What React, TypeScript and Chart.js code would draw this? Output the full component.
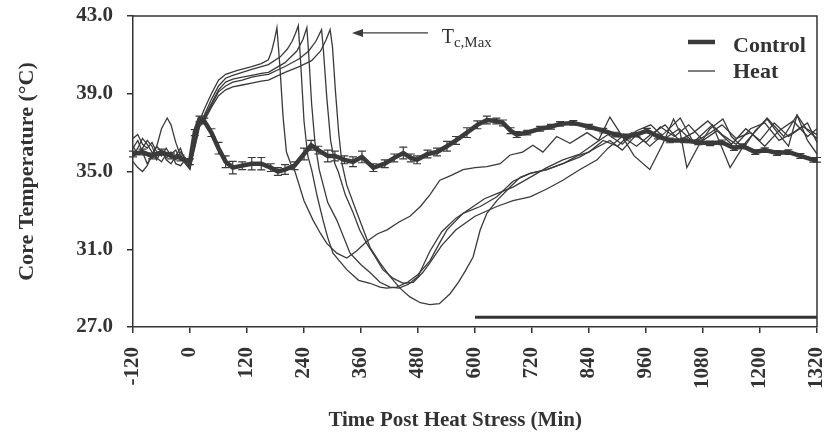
import React, { useEffect, useRef } from "react";
import { Chart, registerables } from "chart.js";

Chart.register(...registerables);

// ---------- data ----------
const xTickValues = [-120, 0, 120, 240, 360, 480, 600, 720, 840, 960, 1080, 1200, 1320];
const yTickValues = [27, 31, 35, 39, 43];

// control: [time (min), core temp (°C), SEM]
const controlSeries: [number, number, number][] = [
  [-120, 35.9, 0.15], [-100, 36.0, 0.15], [-80, 35.8, 0.15], [-60, 36.0, 0.15], [-40, 35.8, 0.15], [-20, 35.7, 0.15], [0, 35.5, 0.15],
  [10, 37.0, 0.15], [20, 37.7, 0.15], [30, 37.6, 0.15], [45, 37.0, 0.2], [60, 36.2, 0.3], [75, 35.5, 0.3], [90, 35.2, 0.32],
  [110, 35.3, 0.2], [130, 35.4, 0.32], [150, 35.4, 0.32], [170, 35.2, 0.2], [185, 35.0, 0.2], [200, 35.1, 0.25], [220, 35.3, 0.2], [240, 35.9, 0.3],
  [255, 36.35, 0.25], [270, 36.1, 0.2], [290, 35.8, 0.3], [305, 35.8, 0.25], [325, 35.6, 0.2], [343, 35.5, 0.25], [362, 35.75, 0.3], [386, 35.2, 0.2],
  [410, 35.4, 0.2], [430, 35.7, 0.2], [449, 35.95, 0.3], [465, 35.7, 0.2], [478, 35.6, 0.2], [500, 35.9, 0.2], [520, 36.0, 0.2], [541, 36.3, 0.25],
  [560, 36.6, 0.2], [583, 37.0, 0.25], [605, 37.4, 0.2], [625, 37.65, 0.2], [645, 37.6, 0.15], [659, 37.5, 0.15], [675, 37.1, 0.15], [688, 36.9, 0.15],
  [710, 37.0, 0.12], [737, 37.2, 0.12], [760, 37.3, 0.12], [779, 37.45, 0.12], [807, 37.5, 0.12], [840, 37.3, 0.12], [870, 37.1, 0.12], [895, 36.9, 0.12],
  [920, 36.8, 0.12], [940, 36.9, 0.12], [962, 37.1, 0.12], [985, 36.8, 0.12], [1010, 36.6, 0.12], [1040, 36.6, 0.12], [1070, 36.5, 0.12], [1095, 36.45, 0.12],
  [1120, 36.5, 0.12], [1145, 36.2, 0.12], [1164, 36.3, 0.12], [1190, 36.0, 0.12], [1210, 36.1, 0.12], [1236, 35.95, 0.12], [1260, 36.0, 0.12], [1285, 35.8, 0.12],
  [1312, 35.6, 0.12], [1320, 35.6, 0.12],
];

// heat-stressed animals: [time (min), core temp (°C)]
const heatA: [number, number][] = [
  [-120, 36.2], [-110, 36.6], [-100, 36.0], [-90, 35.4], [-80, 35.8], [-70, 36.3], [-60, 36.0], [-50, 35.7], [-40, 35.9], [-30, 36.1], [-20, 35.6], [-10, 35.5], [0, 35.2],
  [10, 36.6], [20, 37.6], [30, 38.2], [45, 39.0], [60, 39.7], [75, 40.0], [100, 40.2], [130, 40.4], [150, 40.55], [165, 40.75], [172, 41.2], [178, 41.8], [183, 42.4],
  [189, 40.5], [196, 37.8], [203, 36.0], [212, 35.4], [221, 35.0], [240, 33.5], [259, 32.5], [275, 31.8], [288, 31.3], [309, 30.8], [330, 30.55],
  [350, 30.9], [372, 31.4], [395, 31.8], [415, 32.0], [440, 32.4], [463, 32.7], [485, 33.2], [505, 33.8], [526, 34.55], [550, 34.8], [575, 35.1], [600, 35.2],
  [625, 35.25], [653, 35.4], [674, 35.85], [700, 36.0], [722, 36.35], [743, 36.0], [772, 36.8], [800, 36.45], [836, 37.0], [860, 36.6], [884, 37.8], [905, 37.0],
  [935, 35.8], [968, 35.1], [995, 36.4], [1018, 37.7], [1032, 37.0], [1046, 35.2], [1070, 36.3], [1095, 37.2], [1122, 37.7], [1140, 36.8], [1165, 36.2],
  [1190, 37.1], [1215, 37.7], [1240, 36.9], [1260, 36.3], [1278, 37.9], [1300, 37.1], [1320, 36.7],
];

const heatB: [number, number][] = [
  [-120, 36.7], [-110, 36.9], [-100, 36.4], [-90, 36.2], [-80, 36.5], [-70, 36.0], [-60, 35.8], [-50, 36.2], [-40, 35.8], [-30, 35.6], [-20, 36.0], [-10, 35.7], [0, 35.3],
  [10, 36.5], [20, 37.5], [30, 37.9], [45, 38.7], [60, 39.4], [75, 39.8], [90, 39.95], [110, 40.1], [130, 40.25], [150, 40.4], [165, 40.5], [190, 40.9], [205, 41.3], [215, 41.7], [222, 42.1], [228, 42.5],
  [233, 40.6], [240, 37.6], [248, 35.8], [256, 35.1], [268, 33.7], [280, 32.5], [290, 31.6], [301, 30.8], [330, 29.95], [355, 29.4], [379, 29.25], [400, 29.05], [414, 29.0],
  [435, 29.05], [458, 29.3], [480, 29.7], [505, 30.4], [525, 31.3], [541, 32.0], [575, 32.85], [611, 33.2], [646, 33.7], [680, 34.5], [716, 34.9], [751, 35.1], [785, 35.4],
  [815, 35.8], [840, 36.0], [870, 36.6], [900, 36.3], [930, 37.0], [960, 36.5], [990, 37.3], [1020, 36.8], [1050, 37.4], [1080, 36.6], [1110, 37.1], [1140, 36.4],
  [1170, 37.2], [1200, 36.6], [1230, 37.5], [1260, 36.8], [1290, 37.3], [1320, 36.9],
];

const heatC: [number, number][] = [
  [-120, 35.5], [-110, 35.2], [-100, 35.0], [-90, 35.3], [-80, 35.9], [-70, 36.3], [-60, 37.2], [-48, 37.75], [-40, 37.4], [-30, 36.5], [-20, 35.8], [-10, 35.4], [0, 35.1],
  [10, 36.4], [20, 37.5], [30, 37.8], [45, 38.5], [60, 39.2], [75, 39.6], [90, 39.75], [110, 39.85], [130, 39.95], [150, 40.05], [165, 40.1], [200, 40.6], [225, 41.2], [238, 41.8], [246, 42.4],
  [250, 41.0], [256, 38.5], [263, 36.5], [272, 35.1], [290, 33.4], [309, 32.5], [337, 30.8], [360, 30.2], [379, 29.8], [400, 29.3], [421, 29.05], [440, 29.0], [460, 29.2],
  [480, 29.6], [505, 30.9], [530, 31.9], [560, 32.6], [590, 33.1], [620, 33.6], [650, 33.9], [680, 34.2], [716, 34.7], [751, 35.2], [785, 35.6], [821, 35.9],
  [850, 36.4], [880, 36.9], [910, 36.4], [940, 37.1], [970, 37.4], [1000, 36.7], [1030, 37.2], [1060, 36.5], [1090, 36.9], [1120, 37.4], [1150, 36.7], [1180, 37.0],
  [1210, 36.3], [1240, 37.1], [1270, 37.6], [1300, 36.8], [1320, 37.2],
];

const heatD: [number, number][] = [
  [-120, 36.3], [-110, 35.9], [-100, 36.2], [-90, 36.6], [-80, 36.3], [-70, 35.7], [-60, 35.5], [-50, 35.9], [-40, 36.0], [-30, 35.4], [-20, 35.3], [-10, 35.6], [0, 35.3],
  [10, 36.3], [20, 37.4], [30, 37.7], [45, 38.4], [60, 39.1], [75, 39.4], [90, 39.6], [110, 39.7], [130, 39.85], [150, 39.95], [165, 40.0], [200, 40.4], [230, 40.8], [250, 41.2], [265, 41.7], [277, 42.3],
  [281, 41.2], [288, 38.8], [296, 36.6], [305, 35.4], [312, 35.0], [327, 33.8], [343, 32.9], [357, 32.0], [372, 31.3], [390, 30.6], [406, 29.95], [428, 29.5], [449, 29.25],
  [470, 29.3], [490, 29.8], [505, 30.3], [530, 31.2], [560, 32.0], [600, 32.7], [646, 33.2], [680, 33.5], [716, 33.7], [751, 34.1], [785, 34.55], [821, 35.1], [857, 35.6],
  [880, 36.2], [910, 36.8], [940, 36.3], [970, 36.9], [1000, 37.4], [1030, 36.6], [1060, 37.0], [1090, 37.6], [1120, 36.9], [1150, 36.4], [1180, 37.2], [1210, 37.5],
  [1240, 36.6], [1270, 37.0], [1300, 37.5], [1320, 36.5],
];

const heatE: [number, number][] = [
  [-120, 35.8], [-110, 36.2], [-100, 36.7], [-90, 36.4], [-80, 36.0], [-70, 35.6], [-60, 36.1], [-50, 35.6], [-40, 35.4], [-30, 35.8], [-20, 36.2], [-10, 35.5], [0, 35.2],
  [10, 36.2], [20, 37.3], [30, 37.6], [45, 38.3], [60, 38.9], [75, 39.2], [90, 39.35], [110, 39.45], [130, 39.55], [150, 39.65], [165, 39.7], [200, 40.1], [230, 40.4], [256, 40.7], [275, 41.2], [287, 41.8], [295, 42.3],
  [300, 41.4], [306, 39.2], [313, 37.0], [320, 35.4], [330, 34.3], [351, 32.9], [365, 32.0], [379, 31.1], [400, 30.3], [421, 29.6], [442, 29.0], [463, 28.55], [485, 28.25],
  [505, 28.15], [525, 28.2], [547, 28.7], [565, 29.3], [580, 29.9], [596, 30.6], [611, 32.0], [625, 32.85], [646, 33.5], [674, 34.2], [695, 34.7], [716, 34.9], [751, 35.1],
  [785, 35.4], [821, 35.75], [857, 36.25], [884, 36.6], [910, 36.1], [940, 36.9], [968, 36.3], [1000, 37.0], [1032, 37.75], [1060, 36.5], [1100, 37.4], [1137, 35.2],
  [1170, 36.5], [1215, 37.75], [1250, 36.8], [1278, 37.9], [1300, 36.6], [1320, 35.9],
];

const heatSeries = [heatA, heatB, heatC, heatD, heatE];

// horizontal bar under the recovery period
const barStart = 600;
const barEnd = 1320;
const barLevel = 27.5;

// T c,Max arrow annotation (data coordinates)
const arrowTip = { x: 341, y: 42.13 };
const arrowTail = { x: 501, y: 42.13 };
const annotationPos = { x: 530, y: 41.6 };

const INK = "#3a3a3a";
const SERIF = "'Liberation Serif', 'Times New Roman', serif";

const decorPlugin = {
  id: "decor",
  afterDatasetsDraw(chart: any) {
    const { ctx, chartArea, scales } = chart;
    const xs = scales.x;
    const ys = scales.y;
    ctx.save();

    // error bars on control
    ctx.strokeStyle = INK;
    ctx.lineWidth = 1.2;
    for (const [t, v, s] of controlSeries) {
      if (!s) continue;
      const px = xs.getPixelForValue(t);
      const y1 = ys.getPixelForValue(v - s);
      const y2 = ys.getPixelForValue(v + s);
      ctx.beginPath();
      ctx.moveTo(px, y1);
      ctx.lineTo(px, y2);
      ctx.moveTo(px - 4, y1);
      ctx.lineTo(px + 4, y1);
      ctx.moveTo(px - 4, y2);
      ctx.lineTo(px + 4, y2);
      ctx.stroke();
    }

    // frame top + right
    ctx.strokeStyle = "#333";
    ctx.lineWidth = 1.5;
    ctx.beginPath();
    ctx.moveTo(chartArea.left, chartArea.top);
    ctx.lineTo(chartArea.right, chartArea.top);
    ctx.lineTo(chartArea.right, chartArea.bottom);
    ctx.stroke();

    // legend
    const lx = chartArea.left + 555;
    ctx.strokeStyle = INK;
    ctx.lineWidth = 4.5;
    ctx.beginPath();
    ctx.moveTo(lx, chartArea.top + 26);
    ctx.lineTo(lx + 27, chartArea.top + 26);
    ctx.stroke();
    ctx.lineWidth = 1.3;
    ctx.beginPath();
    ctx.moveTo(lx, chartArea.top + 55);
    ctx.lineTo(lx + 27, chartArea.top + 55);
    ctx.stroke();
    ctx.fillStyle = "#333";
    ctx.font = `bold 22px ${SERIF}`;
    ctx.textAlign = "left";
    ctx.textBaseline = "alphabetic";
    ctx.fillText("Control", lx + 45, chartArea.top + 36);
    ctx.fillText("Heat", lx + 45, chartArea.top + 62);

    // arrow annotation
    const tx = xs.getPixelForValue(arrowTip.x);
    const ty = ys.getPixelForValue(arrowTip.y);
    const ex = xs.getPixelForValue(arrowTail.x);
    ctx.strokeStyle = INK;
    ctx.lineWidth = 1.3;
    ctx.beginPath();
    ctx.moveTo(tx + 8, ty);
    ctx.lineTo(ex, ty);
    ctx.stroke();
    ctx.fillStyle = INK;
    ctx.beginPath();
    ctx.moveTo(tx, ty);
    ctx.lineTo(tx + 11, ty - 4);
    ctx.lineTo(tx + 11, ty + 4);
    ctx.closePath();
    ctx.fill();

    const ax = xs.getPixelForValue(annotationPos.x);
    const ay = ys.getPixelForValue(annotationPos.y);
    ctx.fillStyle = "#333";
    ctx.font = `20px ${SERIF}`;
    ctx.fillText("T", ax, ay);
    const tw = ctx.measureText("T").width;
    ctx.font = `15px ${SERIF}`;
    ctx.fillText("c,Max", ax + tw, ay + 4);

    // x axis title
    ctx.font = `bold 21px ${SERIF}`;
    ctx.textAlign = "center";
    ctx.textBaseline = "middle";
    ctx.fillText("Time Post Heat Stress (Min)", chartArea.left + chartArea.width * 0.471, 421);

    ctx.restore();
  },
};

export default function App() {
  const canvasRef = useRef<HTMLCanvasElement | null>(null);

  useEffect(() => {
    if (!canvasRef.current) return;
    const tickFont = { family: SERIF, size: 21, weight: "bold" as const };
    const datasets: any[] = [
      {
        label: "Control",
        data: controlSeries.map(([x, y]) => ({ x, y })),
        borderColor: INK,
        borderWidth: 4.5,
        pointRadius: 0,
        tension: 0,
      },
      ...heatSeries.map((s, i) => ({
        label: `Heat ${i + 1}`,
        data: s.map(([x, y]) => ({ x, y })),
        borderColor: INK,
        borderWidth: 1.3,
        pointRadius: 0,
        tension: 0,
      })),
      {
        label: "bar",
        data: [
          { x: barStart, y: barLevel },
          { x: barEnd, y: barLevel },
        ],
        borderColor: "#333",
        borderWidth: 3,
        pointRadius: 0,
      },
    ];

    const chart = new Chart(canvasRef.current, {
      type: "line",
      data: { datasets },
      options: {
        animation: false,
        responsive: false,
        maintainAspectRatio: false,
        layout: { padding: { top: 16, right: 10, left: 0, bottom: 0 } },
        plugins: { legend: { display: false }, tooltip: { enabled: false } },
        scales: {
          x: {
            type: "linear",
            min: -120,
            max: 1320,
            afterBuildTicks: (s: any) => {
              s.ticks = xTickValues.map((v) => ({ value: v }));
            },
            afterFit: (s: any) => {
              s.height = 105;
              s.paddingLeft = 0;
              s.paddingRight = 0;
              s.paddingTop = 0;
              s.paddingBottom = 0;
            },
            ticks: {
              autoSkip: false,
              minRotation: 90,
              maxRotation: 90,
              padding: 14,
              color: "#333",
              font: tickFont,
              callback: (v: any) => String(v),
            },
            grid: { drawOnChartArea: false, tickLength: 6, color: "#333", lineWidth: 1.5 },
            border: { color: "#333", width: 1.5 },
          },
          y: {
            type: "linear",
            min: 27,
            max: 43,
            afterBuildTicks: (s: any) => {
              s.ticks = yTickValues.map((v) => ({ value: v }));
            },
            afterFit: (s: any) => {
              s.width = 133;
              s.paddingLeft = 0;
              s.paddingRight = 0;
              s.paddingTop = 0;
              s.paddingBottom = 0;
            },
            ticks: {
              padding: 14,
              color: "#333",
              font: tickFont,
              callback: (v: any) => Number(v).toFixed(1),
            },
            grid: { drawOnChartArea: false, tickLength: 6, color: "#333", lineWidth: 1.5 },
            border: { color: "#333", width: 1.5 },
            title: {
              display: true,
              text: "Core Temperature (°C)",
              color: "#333",
              font: { family: SERIF, size: 22, weight: "bold" },
              padding: { top: 14, bottom: 0 },
            },
          },
        },
      },
      plugins: [decorPlugin],
    });
    return () => chart.destroy();
  }, []);

  return (
    <div style={{ position: "absolute", left: 0, top: 0, width: 827, height: 432, background: "#fff" }}>
      <canvas ref={canvasRef} width={827} height={432} style={{ width: 827, height: 432 }} />
    </div>
  );
}
